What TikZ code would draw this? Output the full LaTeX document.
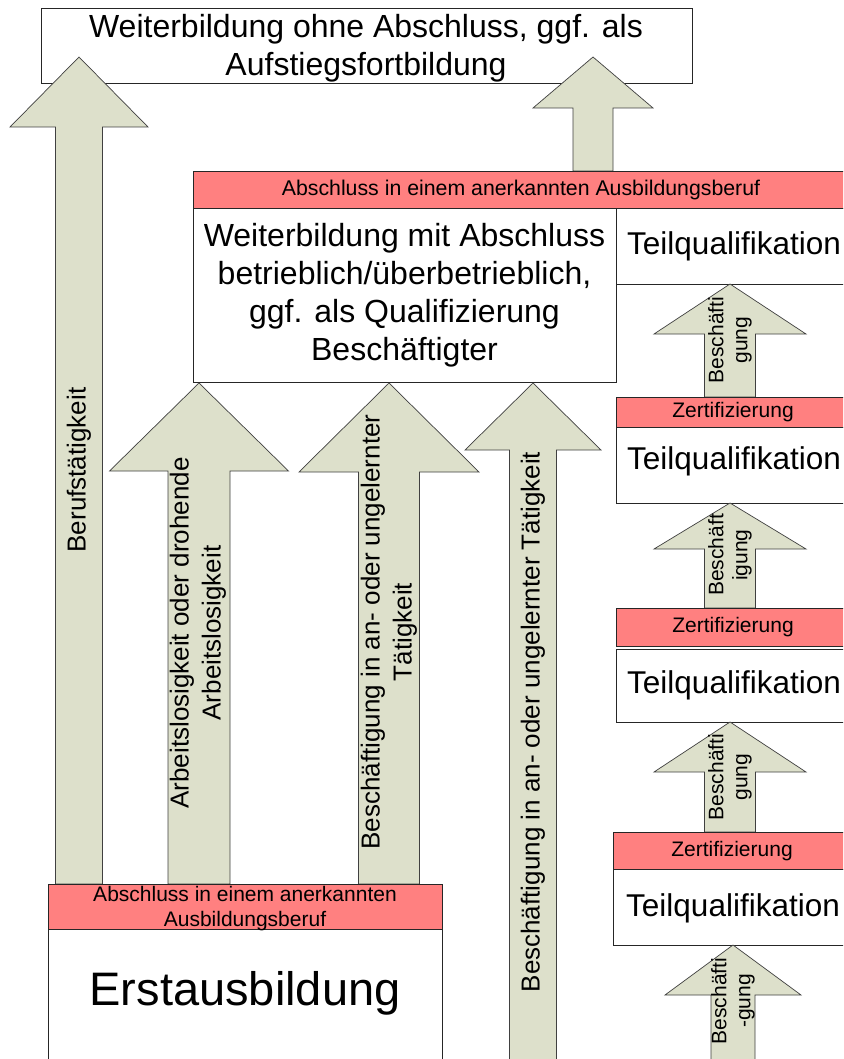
\documentclass[tikz,border=0pt]{standalone}
\usepackage{fontspec}
\setmainfont{Liberation Sans}
\definecolor{arrowfill}{HTML}{DDE0CB}
\definecolor{redbar}{HTML}{FF8080}
\newcommand{\uparr}[6]{%
  \draw[arrowshape] (#1,#2) -- ({#1+#3},#4) -- ({#1+#5},#4) -- ({#1+#5},#6)
    -- ({#1-#5},#6) -- ({#1-#5},#4) -- ({#1-#3},#4) -- cycle;}
\tikzset{
  arrowshape/.style={draw=black!75, line width=0.7pt, fill=arrowfill},
  whitebox/.style={draw=black!85, line width=0.8pt, fill=white},
  redbox/.style={draw=black!85, line width=0.8pt, fill=redbar},
  txt/.style={inner sep=0pt, align=center, text=black},
  smalllbl/.style={txt, rotate=90, font=\fontsize{21}{24}\selectfont},
}
\newcommand{\fs}[2]{\fontsize{#1}{#2}\selectfont}
\begin{document}
\begin{tikzpicture}[x=1pt,y=-1pt]
\useasboundingbox (0,0) rectangle (843,1059);
\clip (0,0) rectangle (843,1059);
\fill[white] (0,0) rectangle (843,1059);

% top box
\draw[whitebox] (41,8) rectangle (692,83);
\node[txt, font=\fs{32}{38}] (top) at (366,48) {Weiterbildung ohne Abschluss, ggf. als\\Aufstiegsfortbildung};

% long left arrow and top right arrow
\uparr{79}{57}{69}{127}{23.5}{884}
\node[txt, rotate=90, font=\fs{26}{31}] (beruf) at (79,470) {Berufstätigkeit};
\uparr{593}{57}{60}{108}{20}{171}

% Weiterbildung mit Abschluss
\draw[whitebox] (193,208) rectangle (616,382);
\draw[redbox] (193,171) rectangle (852,208);
\node[txt, font=\fs{21.3}{25}] (abs1) at (521,189.5) {Abschluss in einem anerkannten Ausbildungsberuf};
\node[txt, font=\fs{32}{38}] (wmA) at (404.5,295) {Weiterbildung mit Abschluss\\betrieblich/überbetrieblich,\\ggf. als Qualifizierung\\Beschäftigter};

% right column
\draw[whitebox] (616,208) rectangle (852,284);
\node[txt, font=\fs{31.5}{36}] (tq1) at (734,246) {Teilqualifikation};
\uparr{730}{284}{76}{334}{25.5}{397}
\node[smalllbl] (b1) at (730,340) {Beschäfti\\gung};

\draw[redbox] (616,397) rectangle (852,427);
\node[txt, font=\fs{21}{25}] (z1) at (733,412) {Zertifizierung};
\draw[whitebox] (616,427) rectangle (852,503);
\node[txt, font=\fs{31.5}{36}] (tq2) at (734,461) {Teilqualifikation};
\uparr{730}{503}{76}{549}{25.5}{608}
\node[smalllbl] (b2) at (730,555) {Beschäft\\igung};

\draw[redbox] (616,608) rectangle (852,646);
\node[txt, font=\fs{21}{25}] (z2) at (733,627) {Zertifizierung};
\draw[whitebox] (616,649) rectangle (852,722);
\node[txt, font=\fs{31.5}{36}] (tq3) at (734,685) {Teilqualifikation};
\uparr{730}{722}{76}{772}{25.5}{832}
\node[smalllbl] (b3) at (730,777) {Beschäfti\\gung};

\draw[redbox] (613,832) rectangle (852,869);
\node[txt, font=\fs{21}{25}] (z3) at (732,851) {Zertifizierung};
\draw[whitebox] (613,869) rectangle (852,945);
\node[txt, font=\fs{31.5}{36}] (tq4) at (733,908) {Teilqualifikation};
\uparr{733}{945}{68}{995}{22}{1070}
\node[smalllbl] (b4) at (733,1001) {Beschäfti\\-gung};

% arrows to Weiterbildung mit Abschluss
\uparr{199}{383}{89.5}{471}{31}{884}
\node[txt, rotate=90, font=\fs{26}{32}] (arb) at (198,633) {Arbeitslosigkeit oder drohende\\Arbeitslosigkeit};
\uparr{389}{383}{90}{472}{30.5}{884}
\node[txt, rotate=90, font=\fs{26}{32}] (bes1) at (389,632) {Beschäftigung in an- oder ungelernter\\Tätigkeit};
\uparr{533}{383}{68}{450}{23.5}{1070}
\node[txt, rotate=90, font=\fs{26}{31}] (bes2) at (533,722) {Beschäftigung in an- oder ungelernter Tätigkeit};

% Erstausbildung
\draw[whitebox] (48,929) rectangle (442,1070);
\draw[redbox] (48,884) rectangle (442,929);
\node[txt, font=\fs{21}{25}] (abs2) at (245,908.5) {Abschluss in einem anerkannten\\Ausbildungsberuf};
\node[txt, font=\fs{47}{54}] (erst) at (245,993) {Erstausbildung};
\end{tikzpicture}
\end{document}
